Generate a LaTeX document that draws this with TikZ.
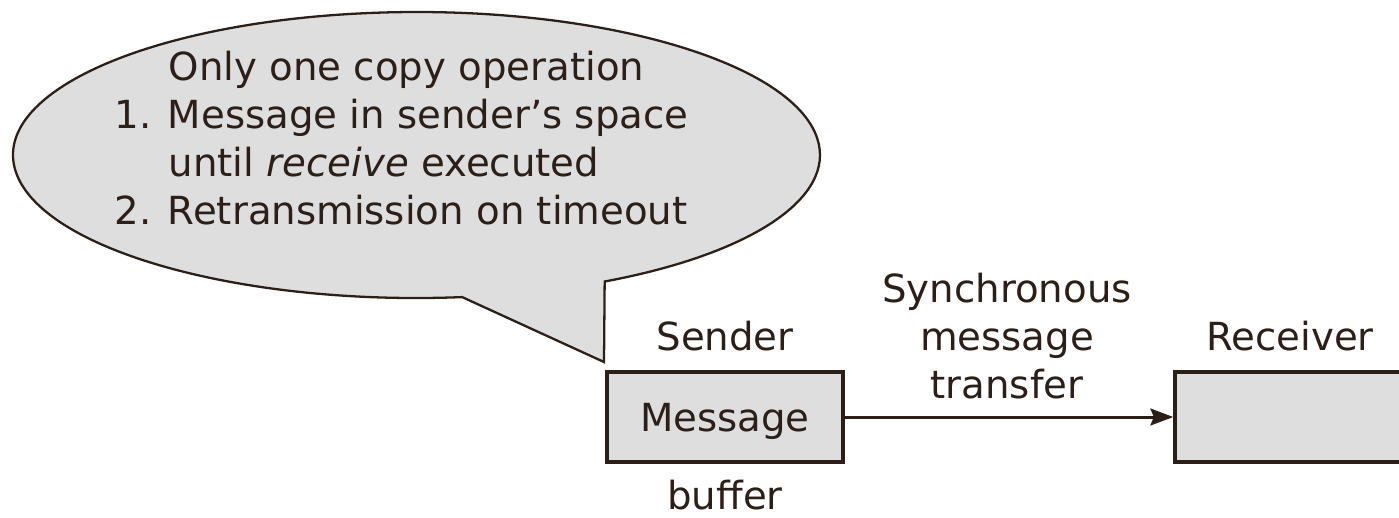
\documentclass[tikz,border=0pt]{standalone}
\usepackage{fontspec}
\setmainfont{DejaVu Sans}
\usepackage{tikz}
\usetikzlibrary{arrows.meta}
\definecolor{ink}{HTML}{2B1F18}
\definecolor{shade}{HTML}{DEDEDE}
\tikzset{
  bufbox/.style={draw=ink, fill=shade, line width=0.95pt, minimum width=2.36cm,
    minimum height=0.9cm, inner sep=0pt, text height=8pt, text depth=0pt},
  lbl/.style={anchor=base, inner sep=0pt},
  bubble/.style={draw=ink, fill=shade, line width=0.65pt, line join=miter}
}
\begin{document}
\begin{tikzpicture}[x=0.01cm, y=-0.01cm, font=\fontsize{11}{13.7}\selectfont, text=ink]
            \clip (0,0) rectangle (1399,517);
            \draw[bubble] (416.5,155) ++(83.5:403.5 and 143)
                arc[start angle=83.5, end angle=422.2, x radius=403.5, y radius=143]
                -- (604,362) -- cycle;
            \node[lbl, anchor=base west] (note1) at (168,80) {Only one copy operation};
            \node[lbl, anchor=base west] (note2) at (114,128) {1. Message in sender's space};
            \node[lbl, anchor=base west] (note3) at (168,176) {until \textit{receive} executed};
            \node[lbl, anchor=base west] (note4) at (114,224) {2. Retransmission on timeout};

            \node[bufbox] (msg) at (725,417) {Message};
            \node[bufbox] (recv) at (1293,417) {};
            \draw[ink, line width=0.85pt, -{Stealth[length=6.5pt, width=4.8pt, inset=1pt]}] (msg) -- (recv);

            \node[lbl] (sender) at (725,350) {Sender};
            \node[lbl] (bufname) at (725,509) {buffer};
            \node[lbl] (recvname) at (1290,350) {Receiver};
            \node[align=center, inner sep=0pt] (sync) at (1007,336) {Synchronous\\message\\transfer};
        \end{tikzpicture}
\end{document}
